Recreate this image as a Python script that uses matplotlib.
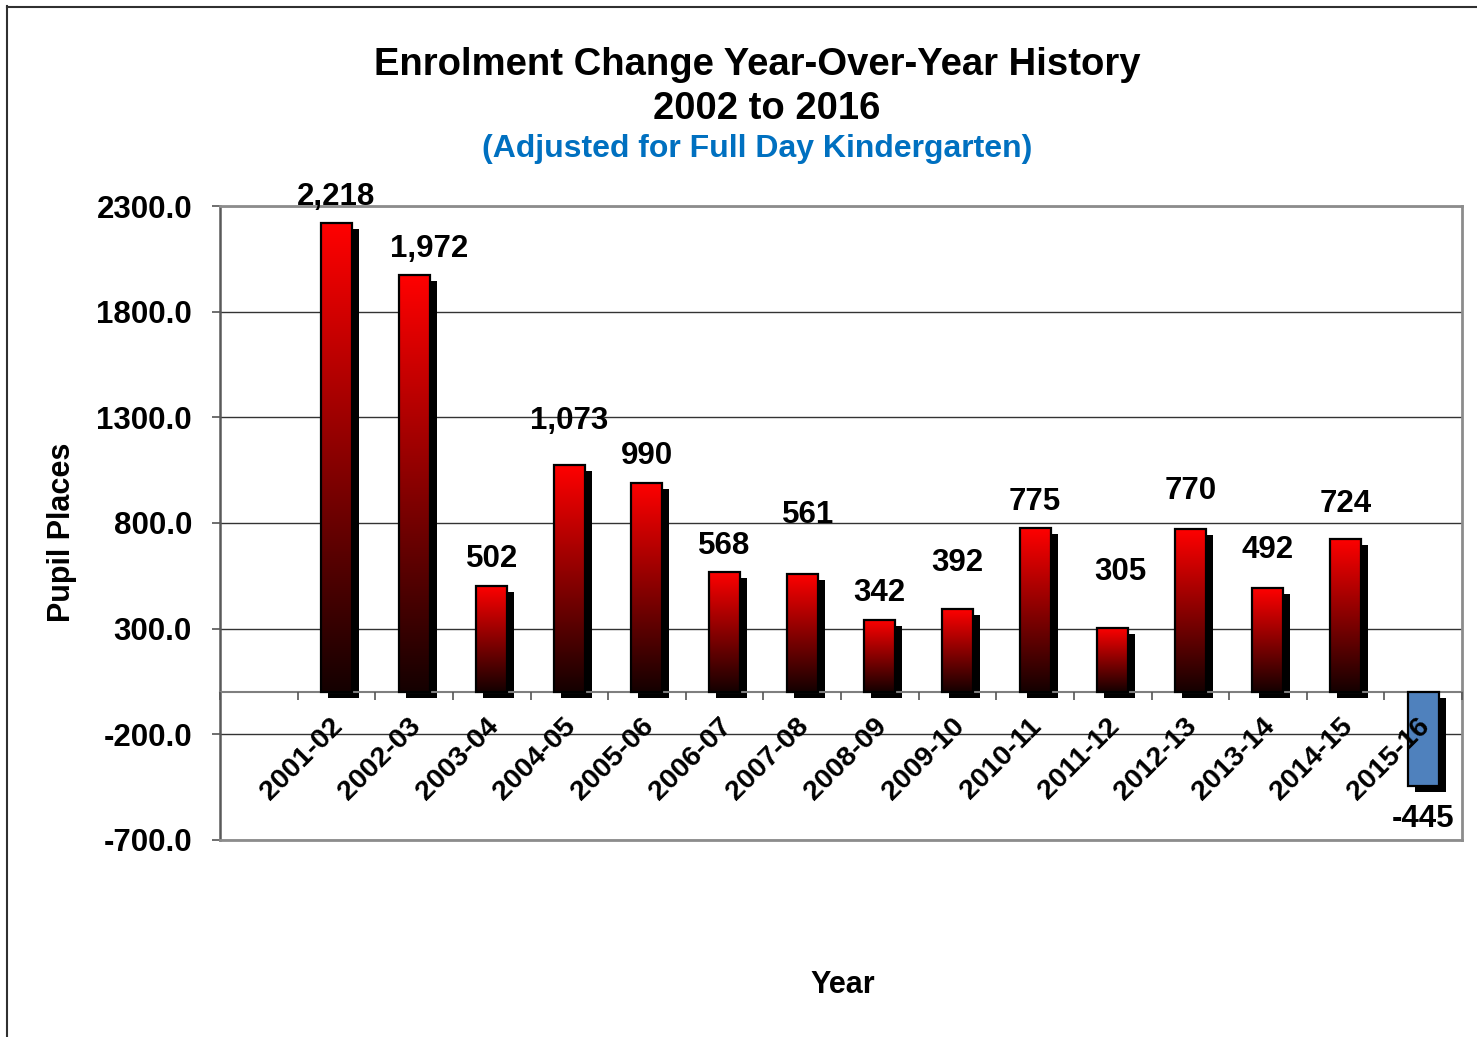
import numpy as np
import matplotlib
matplotlib.use("Agg")
import matplotlib.pyplot as plt
from matplotlib.transforms import ScaledTranslation
from matplotlib.lines import Line2D

# ---- data -------------------------------------------------------------
school_years = ["2001-02", "2002-03", "2003-04", "2004-05", "2005-06",
                "2006-07", "2007-08", "2008-09", "2009-10", "2010-11",
                "2011-12", "2012-13", "2013-14", "2014-15", "2015-16"]
enrolment_change = [2218, 1972, 502, 1073, 990, 568, 561, 342, 392, 775,
                    305, 770, 492, 724, -445]
y_ticks = [-700, -200, 300, 800, 1300, 1800, 2300]

# ---- layout / style ---------------------------------------------------
# label nudges (pixels) relative to the bar end: (dx, dy)
label_nudge = [(0, 26), (15, 26), (0, 27), (0, 44), (0, 27), (0, 26), (6, 59),
               (0, 27), (0, 46), (0, 26), (8, 56), (0, 38), (0, 38), (0, 35),
               (0, -33)]
FONT = "Liberation Sans"
plt.rcParams["font.family"] = [FONT, "DejaVu Sans"]
plt.rcParams["font.weight"] = "bold"

DPI = 100
fig = plt.figure(figsize=(14.77, 10.37), dpi=DPI)
ax = fig.add_axes([220 / 1477, 1 - 840 / 1037, 1242 / 1477, 634 / 1037])

# one empty slot before the first school year
pos = np.arange(1, len(school_years) + 1)
bar_w = 0.40

# drop shadow behind every bar
shadow_tf = ax.transData + ScaledTranslation(7 / DPI, -6 / DPI, fig.dpi_scale_trans)
ax.bar(pos, enrolment_change, bar_w, color="black", zorder=2,
       transform=shadow_tf)

face = ["none" if v > 0 else "#4F81BD" for v in enrolment_change]
bars = ax.bar(pos, enrolment_change, bar_w, facecolor=face, edgecolor="black",
              linewidth=1.6, zorder=4)

# red-to-black vertical gradient inside the positive bars
grad = np.linspace(0, 1, 256).reshape(-1, 1)
top = np.array([1.0, 0.0, 0.0])
bottom = np.array([0.08, 0.0, 0.0])
img = (grad[..., None] * top + (1 - grad[..., None]) * bottom)  # row 0 bottom
for b, v in zip(bars, enrolment_change):
    if v <= 0:
        continue
    x0 = b.get_x()
    im = ax.imshow(img, extent=(x0, x0 + b.get_width(), 0, v), origin="lower",
                   aspect="auto", zorder=3, interpolation="bilinear")
    im.set_clip_path(b)

# value labels
for p, v, (dx, dy) in zip(pos, enrolment_change, label_nudge):
    ax.annotate(f"{v:,}", xy=(p, v), xytext=(dx, dy), textcoords="offset pixels",
                ha="center", va="center", fontsize=22.5, fontweight="bold",
                zorder=6)

# ---- axes -------------------------------------------------------------
ax.set_xlim(-0.5, len(school_years) + 0.5)
ax.set_ylim(-700, 2300)
ax.set_yticks(y_ticks)
ax.set_yticklabels([f"{t:.1f}" for t in y_ticks])
ax.tick_params(axis="y", direction="out", length=8 * 72 / DPI, width=1.2,
               color="#555555", pad=20 * 72 / DPI, labelsize=22.5)
for lab in ax.get_yticklabels():
    lab.set_fontweight("bold")

ax.grid(axis="y", color="#333333", linewidth=1.0, zorder=0)
ax.set_axisbelow(True)

# category axis runs along zero
ax.spines["bottom"].set_position(("data", 0))
ax.spines["bottom"].set_color("#7f7f7f")
ax.spines["bottom"].set_linewidth(1.5)
ax.spines["left"].set_color("#595959")
ax.spines["left"].set_linewidth(1.8)
for s in ("top", "right"):
    ax.spines[s].set_color("#8c8c8c")
    ax.spines[s].set_linewidth(2.0)
ax.add_line(Line2D([0, 1], [0, 0], transform=ax.transAxes, color="#8c8c8c",
                   linewidth=2.0, clip_on=False, zorder=5))

ax.set_xticks(pos)
ax.set_xticklabels(school_years, rotation=45, ha="right", va="top",
                   fontsize=20.5, fontweight="bold")
ax.set_xticks(np.arange(-0.5, len(school_years) + 1), minor=True)
ax.tick_params(axis="x", which="major", length=0, pad=21 * 72 / DPI)
ax.tick_params(axis="x", which="minor", direction="out", length=8 * 72 / DPI,
               width=1.2, color="#555555")
shift = ScaledTranslation(12 / DPI, 0, fig.dpi_scale_trans)
for lab in ax.get_xticklabels():
    lab.set_transform(lab.get_transform() + shift)
# category labels sit on top of the bars
ax.xaxis.set_zorder(5)

# ---- titles -----------------------------------------------------------
fig.text(757 / 1477, 1 - 65 / 1037, "Enrolment Change Year-Over-Year History",
         ha="center", va="center", fontsize=27.5, fontweight="bold")
fig.text(767 / 1477, 1 - 109 / 1037, "2002 to 2016",
         ha="center", va="center", fontsize=27.5, fontweight="bold")
fig.text(757 / 1477, 1 - 149 / 1037, "(Adjusted for Full Day Kindergarten)",
         ha="center", va="center", fontsize=23, fontweight="bold",
         color="#0070C0")
fig.text(843 / 1477, 1 - 985 / 1037, "Year", ha="center", va="center",
         fontsize=22, fontweight="bold")
fig.text(62 / 1477, 1 - 532 / 1037, "Pupil Places", ha="center", va="center",
         rotation=90, fontsize=22, fontweight="bold")

# outer chart frame (left and top edges visible)
fig.add_artist(Line2D([7.5 / 1477, 7.5 / 1477], [0, 1 - 6 / 1037],
                      transform=fig.transFigure, color="#303030", linewidth=1.5))
fig.add_artist(Line2D([7 / 1477, 1], [1 - 6.5 / 1037, 1 - 6.5 / 1037],
                      transform=fig.transFigure, color="#303030", linewidth=1.5))

fig.savefig("out.png", dpi=DPI, facecolor="white")
